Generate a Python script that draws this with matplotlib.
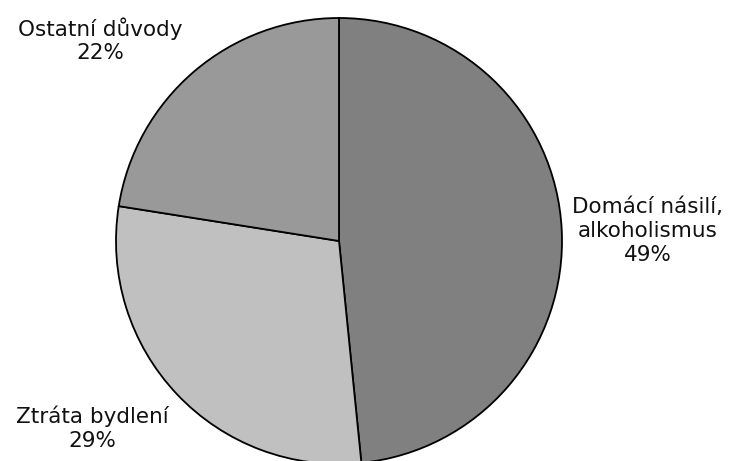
import matplotlib
matplotlib.use("Agg")
import matplotlib.pyplot as plt

categories = ["Domácí násilí,\nalkoholismus", "Ztráta bydlení", "Ostatní důvody"]
values = [48.4, 29.1, 22.5]
pct_labels = ["49%", "29%", "22%"]
colors = ["#808080", "#c0c0c0", "#999999"]

fig = plt.figure(figsize=(7.30, 4.61), dpi=100)
ax = fig.add_axes([0, 0, 1, 1])
ax.set_xlim(0, 730)
ax.set_ylim(0, 461)
ax.set_aspect("equal")
ax.axis("off")

ax.pie(values, colors=colors, startangle=90, counterclock=False,
       center=(339, 220), radius=223,
       wedgeprops=dict(edgecolor="black", linewidth=1.3))
ax.set_xlim(0, 730)
ax.set_ylim(0, 461)

label_pos = [(648, 461 - 231), (92, 461 - 428), (100, 461 - 40)]
for cat, pct, (x, y) in zip(categories, pct_labels, label_pos):
    ax.text(x, y, f"{cat}\n{pct}", ha="center", va="center",
            fontsize=15.5, family="DejaVu Sans", linespacing=1.22, color="#111111")

fig.savefig("out.png", dpi=100)
